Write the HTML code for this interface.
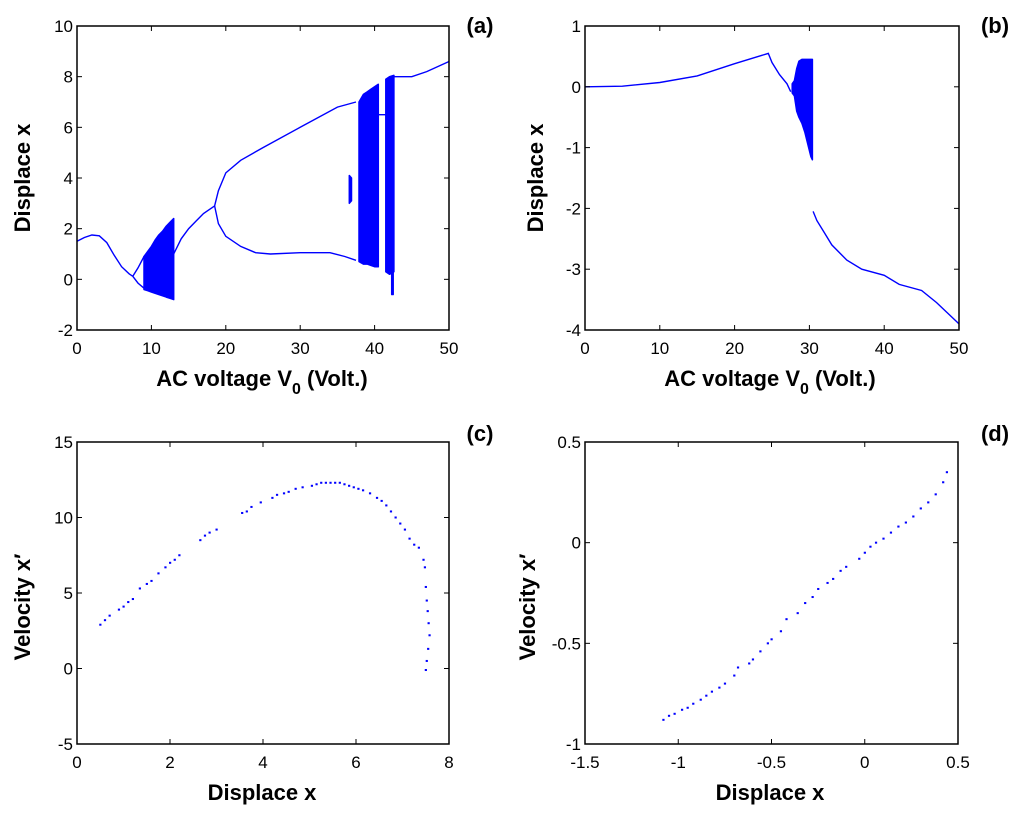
<!DOCTYPE html>
<html><head><meta charset="utf-8"><style>
html,body{margin:0;padding:0;background:#fff;}
svg{display:block;font-family:"Liberation Sans",Arial,sans-serif;}
.tk{font-size:17px;fill:#000;}
.lb{font-size:22px;font-weight:bold;fill:#000;}
</style></head><body>
<svg id="fig" width="1024" height="820" viewBox="0 0 1024 820"></svg>
<script>
// ---- Panel (a) data: bifurcation vs AC voltage ----
const aCurve0 = [[0,1.5],[1,1.65],[2,1.75],[3,1.72],[4,1.45],[5,0.95],[6,0.5],[7,0.22],[7.5,0.12]];
const aUpper1 = [[7.5,0.12],[8.2,0.45],[9,0.9]];
const aLower1 = [[7.5,0.12],[8.2,-0.15],[9,-0.35]];
const aBand1 = [[9,-0.4,0.9],[9.5,-0.45,1.1],[10,-0.5,1.3],[10.5,-0.55,1.55],[11,-0.6,1.75],[11.5,-0.65,1.9],[12,-0.7,2.1],[12.5,-0.75,2.25],[13,-0.8,2.4]];
const aCurve1 = [[13,1.0],[14,1.6],[15,2.0],[16,2.3],[17,2.6],[18.5,2.9]];
const aUpper2 = [[18.5,2.9],[19,3.5],[20,4.2],[22,4.7],[25,5.2],[30,6.0],[35,6.8],[37.5,7.0]];
const aLower2 = [[18.5,2.9],[19,2.2],[20,1.7],[22,1.3],[24,1.05],[26,1.0],[30,1.05],[34,1.05],[36,0.9],[37.5,0.75]];
const aBand2 = [[37.9,0.7,7.0],[38.5,0.6,7.3],[39,0.6,7.4],[39.5,0.55,7.5],[40,0.5,7.6],[40.5,0.5,7.7]];
const aBand3 = [[41.5,0.3,7.9],[42,0.2,8.0],[42.6,0.3,8.05]];
const aIsland = [[36.6,3.0,4.1],[36.9,3.1,4.0]];
const aSpike = [[42.3,-0.6,0.3],[42.5,-0.6,0.3]];
const aCurve2 = [[40.5,6.5],[41.5,6.5]];
const aCurve3 = [[42.6,8.0],[45,8.0],[47,8.2],[50,8.6]];
// ---- Panel (b) data ----
const bCurve0 = [[0,0],[5,0.01],[10,0.07],[15,0.18],[20,0.38],[24.5,0.55],[25,0.4],[26,0.2],[27,0.05],[27.5,-0.08]];
const bBand = [[27.7,-0.1,0.05],[28,-0.15,0.1],[28.3,-0.4,0.3],[28.6,-0.5,0.42],[29,-0.6,0.45],[29.4,-0.75,0.45],[29.8,-0.95,0.45],[30.2,-1.15,0.45],[30.4,-1.2,0.45]];
const bCurve1 = [[30.5,-2.05],[31,-2.2],[32,-2.4],[33,-2.6],[35,-2.85],[37,-3.0],[40,-3.1],[42,-3.25],[45,-3.35],[47,-3.55],[50,-3.9]];
// ---- Panel (c) data: phase portrait ----
const cX = [0.5,0.6,0.7,0.9,1.0,1.1,1.2,1.35,1.5,1.6,1.75,1.9,2.0,2.1,2.2,2.65,2.75,2.85,3.0,3.55,3.65,3.75,3.95,4.2,4.3,4.45,4.55,4.7,4.85,5.05,5.15,5.25,5.35,5.45,5.55,5.65,5.75,5.85,5.95,6.05,6.15,6.3,6.45,6.55,6.65,6.75,6.85,6.95,7.05,7.15,7.25,7.35,7.45,7.48,7.5,7.52,7.54,7.56,7.58,7.55,7.52,7.5];
const cY = [2.9,3.2,3.5,3.9,4.1,4.4,4.6,5.3,5.6,5.8,6.3,6.7,7.0,7.2,7.5,8.5,8.8,9.0,9.2,10.3,10.4,10.7,11.0,11.3,11.5,11.6,11.7,11.9,12.0,12.1,12.2,12.3,12.3,12.3,12.3,12.3,12.2,12.1,12.0,11.9,11.8,11.6,11.3,11.1,10.8,10.4,10.0,9.6,9.2,8.6,8.2,8.0,7.2,6.7,5.4,4.5,3.8,3.0,2.2,1.3,0.5,-0.1];
// ---- Panel (d) data ----
const dX = [-1.08,-1.05,-1.02,-0.98,-0.95,-0.92,-0.88,-0.85,-0.82,-0.78,-0.75,-0.7,-0.68,-0.62,-0.6,-0.56,-0.52,-0.5,-0.45,-0.42,-0.36,-0.32,-0.28,-0.25,-0.2,-0.17,-0.13,-0.1,-0.03,0.0,0.03,0.06,0.1,0.14,0.18,0.22,0.26,0.3,0.34,0.38,0.42,0.44];
const dY = [-0.88,-0.86,-0.85,-0.83,-0.82,-0.8,-0.78,-0.76,-0.74,-0.72,-0.7,-0.66,-0.62,-0.6,-0.58,-0.54,-0.5,-0.48,-0.44,-0.38,-0.35,-0.3,-0.27,-0.23,-0.2,-0.18,-0.14,-0.12,-0.08,-0.05,-0.02,0.0,0.02,0.05,0.08,0.1,0.13,0.17,0.2,0.24,0.3,0.35];

const NS='http://www.w3.org/2000/svg';
const svg=document.getElementById('fig');
function mk(tag,attrs,parent){const e=document.createElementNS(NS,tag);for(const k in attrs)e.setAttribute(k,attrs[k]);(parent||svg).appendChild(e);return e;}

function axes(p){
  const g=mk('g',{});
  
  
  p.sx=v=>p.x0+(v-p.xmin)/(p.xmax-p.xmin)*(p.x1-p.x0);
  p.sy=v=>p.y1-(v-p.ymin)/(p.ymax-p.ymin)*(p.y1-p.y0);
  p.g=g;
  return p;
}
function frame(p){
  const g=p.g;
  const r=mk('rect',{x:p.x0,y:p.y0,width:p.x1-p.x0,height:p.y1-p.y0,fill:'none',stroke:'#000','stroke-width':1.5},g);
  
  
  p.xt.forEach(v=>{
    const x=p.sx(v);
    mk('line',{x1:x,y1:p.y1,x2:x,y2:p.y1-5,stroke:'#000'},g);
    mk('line',{x1:x,y1:p.y0,x2:x,y2:p.y0+5,stroke:'#000'},g);
    const t=mk('text',{x:x,y:p.y1+24,'text-anchor':'middle',class:'tk'},g);
    t.textContent=String(v);
    
    
  });
  p.yt.forEach(v=>{
    const y=p.sy(v);
    mk('line',{x1:p.x0,y1:y,x2:p.x0+5,y2:y,stroke:'#000'},g);
    mk('line',{x1:p.x1,y1:y,x2:p.x1-5,y2:y,stroke:'#000'},g);
    const t=mk('text',{x:p.x0-4,y:y+6,'text-anchor':'end',class:'tk'},g);
    t.textContent=String(v);
    
    
  });
}
function line(p,pts,name){
  const d=pts.map((q,i)=>(i?'L':'M')+p.sx(q[0]).toFixed(1)+','+p.sy(q[1]).toFixed(1)).join('');
  const e=mk('path',{d:d,fill:'none',stroke:'#0000ff','stroke-width':1.4},p.g);
  
  
}
function band(p,rows,name){
  const top=rows.map(r=>p.sx(r[0]).toFixed(1)+','+p.sy(r[2]).toFixed(1));
  const bot=rows.slice().reverse().map(r=>p.sx(r[0]).toFixed(1)+','+p.sy(r[1]).toFixed(1));
  const e=mk('polygon',{points:top.concat(bot).join(' '),fill:'#0000ff',stroke:'#0000ff','stroke-width':1.5,'stroke-linejoin':'round'},p.g);
  
  
}
function scatter(p,xs,ys,name){
  const g=mk('g',{},p.g);
  
  
  for(let i=0;i<xs.length;i++){
    const e=mk('rect',{x:p.sx(xs[i])-1,y:p.sy(ys[i])-1,width:2.2,height:2,fill:'#0000ff'},g);
    
    
  }
}
function text(x,y,s,cls,name,rot){
  const t=mk('text',{x:x,y:y,'text-anchor':'middle',class:cls});
  if(rot)t.setAttribute('transform','rotate(-90 '+x+' '+y+')');
  t.innerHTML=s;
  
  
  return t;
}

// Panel a
const A=axes({name:'panel-a',x0:77,x1:449,y0:26,y1:330,xmin:0,xmax:50,ymin:-2,ymax:10,xt:[0,10,20,30,40,50],yt:[-2,0,2,4,6,8,10]});
line(A,aCurve0,'series-a-branch-0');line(A,aUpper1,'series-a-upper-1');line(A,aLower1,'series-a-lower-1');
band(A,aBand1,'chaos-band-a-1');line(A,aCurve1,'series-a-branch-1');
line(A,aUpper2,'series-a-upper-2');line(A,aLower2,'series-a-lower-2');
band(A,aBand2,'chaos-band-a-2');band(A,aBand3,'chaos-band-a-3');band(A,aIsland,'chaos-island-a');band(A,aSpike,'chaos-spike-a');
line(A,aCurve2,'series-a-gap');line(A,aCurve3,'series-a-branch-3');
frame(A);
// Panel b
const B=axes({name:'panel-b',x0:585,x1:959,y0:26,y1:330,xmin:0,xmax:50,ymin:-4,ymax:1,xt:[0,10,20,30,40,50],yt:[-4,-3,-2,-1,0,1]});
line(B,bCurve0,'series-b-branch-0');band(B,bBand,'chaos-band-b');line(B,bCurve1,'series-b-branch-1');
frame(B);
// Panel c
const C=axes({name:'panel-c',x0:77,x1:449,y0:442,y1:744,xmin:0,xmax:8,ymin:-5,ymax:15,xt:[0,2,4,6,8],yt:[-5,0,5,10,15]});
scatter(C,cX,cY,'phase-points-c');frame(C);
// Panel d
const D=axes({name:'panel-d',x0:585,x1:958,y0:442,y1:744,xmin:-1.5,xmax:0.5,ymin:-1,ymax:0.5,xt:[-1.5,-1,-0.5,0,0.5],yt:[-1,-0.5,0,0.5]});
scatter(D,dX,dY,'phase-points-d');frame(D);

// Labels
text(480,33,'(a)','lb','panel-a-tag');
text(995,33,'(b)','lb','panel-b-tag');
text(480,441,'(c)','lb','panel-c-tag');
text(995,441,'(d)','lb','panel-d-tag');
text(30,178,'Displace x','lb','y-axis-title-a',true);
text(543,178,'Displace x','lb','y-axis-title-b',true);
text(30,607,'Velocity x\u2032','lb','y-axis-title-c',true);
text(535,607,'Velocity x\u2032','lb','y-axis-title-d',true);
text(262,386,'AC voltage V<tspan font-size="16" dy="8">0</tspan><tspan dy="-8"> (Volt.)</tspan>','lb','x-axis-title-a');
text(770,386,'AC voltage V<tspan font-size="16" dy="8">0</tspan><tspan dy="-8"> (Volt.)</tspan>','lb','x-axis-title-b');
text(262,800,'Displace x','lb','x-axis-title-c');
text(770,800,'Displace x','lb','x-axis-title-d');
</script>
</body></html>
